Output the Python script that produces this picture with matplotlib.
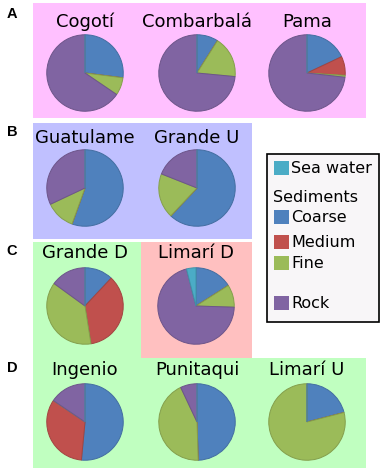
import matplotlib
matplotlib.use("Agg")
import matplotlib.pyplot as plt
from matplotlib.patches import Rectangle
from matplotlib.colors import to_rgb

W, H = 383, 473

# composition per site: Coarse, Medium, Fine, Rock, Sea water (%)
sites = ["Cogotí", "Combarbalá", "Pama",
         "Guatulame", "Grande U",
         "Grande D", "Limarí D",
         "Ingenio", "Punitaqui", "Limarí U"]
coarse = [27, 9, 18, 55.5, 62, 12, 16, 51.5, 49.5, 21]
medium = [0, 0, 8, 0, 0, 35.5, 0, 33, 0, 0]
fine = [7.5, 17.5, 0.8, 12.5, 19, 37.5, 9.5, 0, 43.5, 79]
rock = [65.5, 73.5, 73.2, 32, 19, 15, 70.5, 15.5, 7, 0]
sea_water = [0, 0, 0, 0, 0, 0, 4, 0, 0, 0]

classes = ["Coarse", "Medium", "Fine", "Rock", "Sea water"]
colors = {"Sea water": "#4bacc6", "Coarse": "#4f81bd", "Medium": "#c0504d",
          "Fine": "#9bbb59", "Rock": "#8064a2"}

# pie centres in pixels (x, y from top)
centres = [(85, 73), (197, 73), (307, 73),
           (85, 188), (197, 188),
           (85, 306), (196, 306),
           (85, 422), (197, 422), (307, 422)]
title_y = [22, 22, 22, 138, 138, 253, 253, 370, 370, 370]
R = 39

fig = plt.figure(figsize=(W / 100, H / 100), dpi=100)


def fx(x):
    return x / W


def fy(y):
    return 1 - y / H


def rect(x0, y0, x1, y1, color, z=-1, **kw):
    fig.patches.append(Rectangle((fx(x0), fy(y1)), (x1 - x0) / W, (y1 - y0) / H,
                                 transform=fig.transFigure, facecolor=color,
                                 zorder=z, **kw))


# panel backgrounds
rect(33, 3, 366, 118, "#ffc0ff")
rect(33, 123, 252, 239, "#c0c0ff")
rect(33, 242, 141, 468, "#c0ffc0")
rect(141, 358, 366, 468, "#c0ffc0")
rect(141, 242, 252, 358, "#ffc0c0")

for lab, y in zip("ABCD", [14, 132, 251, 368]):
    fig.text(fx(12), fy(y), lab, ha="center", va="center", fontsize=10.5,
             fontweight="bold", family="Liberation Sans")

for i, name in enumerate(sites):
    cx, cy = centres[i]
    ax = fig.add_axes([fx(cx - R), fy(cy + R), 2 * R / W, 2 * R / H])
    vals = [coarse[i], medium[i], fine[i], rock[i], sea_water[i]]
    wedges, _ = ax.pie(vals, colors=[colors[c] for c in classes], startangle=90,
                       counterclock=False, radius=1)
    for w in wedges:
        r, g, b = to_rgb(w.get_facecolor()[:3])
        w.set_edgecolor((r * 0.85, g * 0.85, b * 0.85))
        w.set_linewidth(0.7)
    ax.set_xlim(-1.02, 1.02)
    ax.set_ylim(-1.02, 1.02)
    ax.set_aspect("equal")
    ax.axis("off")
    fig.text(fx(cx), fy(title_y[i]), name, ha="center", va="center", fontsize=13)

# legend box
rect(267, 154, 379, 322, "#f8f6f8", z=1, edgecolor="black", linewidth=1.2)
leg_items = [("Sea water", 168), ("Coarse", 217), ("Medium", 242),
             ("Fine", 263), ("Rock", 303)]
for name, y in leg_items:
    rect(274, y - 7, 289, y + 7, colors[name], z=2)
    fig.text(fx(291), fy(y), name, ha="left", va="center", fontsize=11.5)
fig.text(fx(273), fy(197), "Sediments", ha="left", va="center", fontsize=11.5)

fig.savefig("out.png", dpi=100)
